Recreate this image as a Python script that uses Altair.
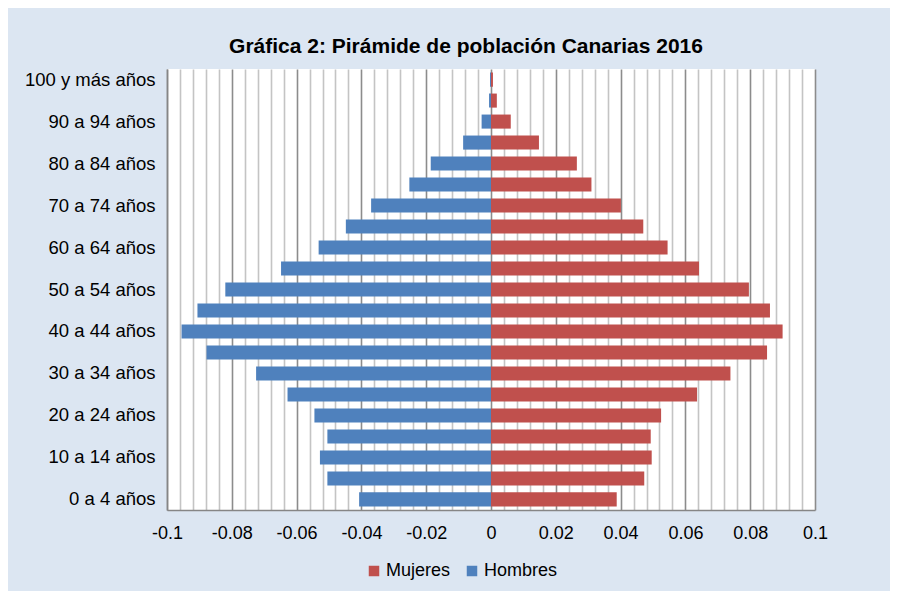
import altair as alt
import pandas as pd

ages = ["0 a 4 años", "5 a 9 años", "10 a 14 años", "15 a 19 años", "20 a 24 años",
        "25 a 29 años", "30 a 34 años", "35 a 39 años", "40 a 44 años", "45 a 49 años",
        "50 a 54 años", "55 a 59 años", "60 a 64 años", "65 a 69 años", "70 a 74 años",
        "75 a 79 años", "80 a 84 años", "85 a 89 años", "90 a 94 años", "95 a 99 años",
        "100 y más años"]
hombres = [-0.0407, -0.0505, -0.0528, -0.0505, -0.0545, -0.0628, -0.0725, -0.0878,
           -0.0955, -0.0906, -0.0820, -0.0648, -0.0532, -0.0448, -0.0370, -0.0252,
           -0.0186, -0.0086, -0.0029, -0.0006, -0.0003]
mujeres = [0.0388, 0.0473, 0.0496, 0.0493, 0.0525, 0.0636, 0.0739, 0.0852,
           0.0900, 0.0861, 0.0796, 0.0642, 0.0545, 0.0470, 0.0401, 0.0310,
           0.0265, 0.0148, 0.0061, 0.0018, 0.0006]
shown_ages = ages[::2]
x_ticks = [round(-0.1 + i * 0.004, 3) for i in range(51)]
series = ["Mujeres", "Hombres"]
colors = ["#C0504D", "#4F81BD"]

rows = []
for a, h, m in zip(ages, hombres, mujeres):
    rows.append({"edad": a, "sexo": "Hombres", "valor": h})
    rows.append({"edad": a, "sexo": "Mujeres", "valor": m})
df = pd.DataFrame(rows)

FONT = "Liberation Sans, Arial"
major = "abs(datum.value*50 - round(datum.value*50)) < 0.000001"

chart = alt.Chart(df).mark_bar().encode(
    x=alt.X("valor:Q",
            scale=alt.Scale(domain=[-0.1, 0.1], nice=False, zero=False),
            axis=alt.Axis(title=None, values=x_ticks,
                          labelExpr=f"{major} ? replace(format(datum.value, '.2~f'), '\u2212', '-') : ''",
                          ticks=False, labelPadding=14, labelFontSize=18,
                          labelFont=FONT, labelColor="#000000",
                          domainColor="#868686", domainWidth=1.5,
                          gridColor={"condition": {"test": major, "value": "#8C8C8C"},
                                     "value": "#C4C4C4"},
                          gridWidth=1.6, labelFlush=False)),
    y=alt.Y("edad:N", sort=list(reversed(ages)),
            scale=alt.Scale(paddingInner=0.33, paddingOuter=0.17),
            axis=alt.Axis(title=None, values=shown_ages, ticks=False, labelPadding=12,
                          labelFontSize=18.5, labelFont=FONT, labelColor="#000000",
                          domainColor="#868686", domainWidth=1.5, grid=False)),
    color=alt.Color("sexo:N",
                    scale=alt.Scale(domain=series, range=colors),
                    legend=alt.Legend(title=None, orient="none", direction="horizontal",
                                      legendX=198, legendY=493,
                                      symbolType="square", symbolSize=110,
                                      symbolStrokeWidth=0,
                                      labelFontSize=18, labelFont=FONT,
                                      labelColor="#000000", columnPadding=12,
                                      labelOffset=3)),
).properties(
    width=648, height=441,
    title=alt.TitleParams("Gráfica 2: Pirámide de población Canarias 2016",
                          font=FONT, fontSize=21, fontWeight="bold", color="#000000",
                          anchor="middle", dx=-25, offset=12),
    background="#DCE6F2",
    padding={"left": 159, "top": 61, "right": 75, "bottom": 81},
    autosize=alt.AutoSizeParams(type="none"),
).configure_view(fill="#FFFFFF", stroke=None)

chart.save("out.html", embed_options={"renderer": "svg", "actions": False})
